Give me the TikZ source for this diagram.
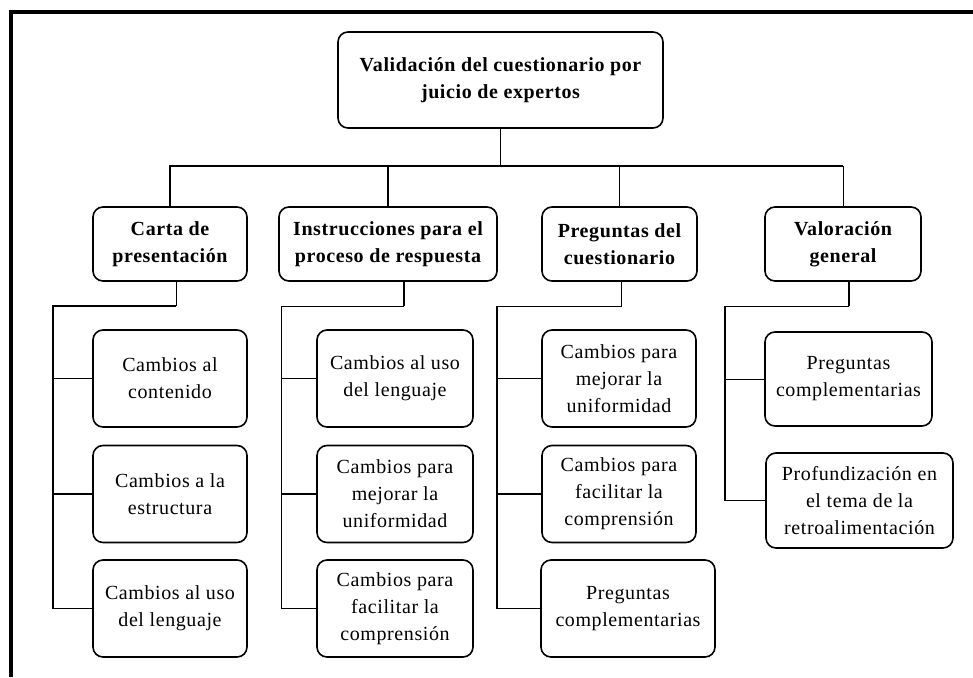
\documentclass[tikz,border=0pt]{standalone}
\usepackage{fontspec}
\setmainfont{Liberation Serif}[LetterSpace=3]
\usepackage{tikz}

\tikzset{
  caja/.style={draw,rounded corners=10pt,line width=1.6pt,align=center,inner sep=0pt,
    font=\fontsize{20}{27}\selectfont},
  bloque/.style={caja,font=\fontsize{20}{27}\selectfont\bfseries},
  grueso/.style={line width=1.7pt},
  fino/.style={line width=0.9pt}
}

\begin{document}
\begin{tikzpicture}[x=1pt,y=-1pt]
\useasboundingbox (0,0) rectangle (973,677);
%%% marco %%%
\draw[line width=3.5pt] (11,677) -- (11,12) -- (973,12);

%%% raiz y bloques %%%
  \node (V) at (500.5,80) [bloque,minimum width=325pt,minimum height=96pt] {Validación del cuestionario por\\juicio de expertos};
  \node (C) at (170,244) [bloque,minimum width=154pt,minimum height=74pt] {Carta de\\presentación};
  \node (I) at (388,244) [bloque,minimum width=218pt,minimum height=74pt] {Instrucciones para el\\proceso de respuesta};
  \node (P) at (619.5,244) [bloque,minimum width=155pt,minimum height=74pt] {Preguntas del\\cuestionario};
  \node (G) at (843,244) [bloque,minimum width=156pt,minimum height=74pt] {Valoración\\general};

%%% hojas %%%
  \node (C1) at (170,378.5) [caja,minimum width=154pt,minimum height=97pt] {Cambios al\\contenido};
  \node (C2) at (170,494) [caja,minimum width=154pt,minimum height=97pt] {Cambios a la\\estructura};
  \node (C3) at (170,608.5) [caja,minimum width=154pt,minimum height=97pt] {Cambios al uso\\del lenguaje};

  \node (I1) at (395,378.5) [caja,minimum width=156pt,minimum height=97pt] {Cambios al uso\\del lenguaje};
  \node (I2) at (395,494) [caja,minimum width=156pt,minimum height=97pt] {Cambios para\\mejorar la\\uniformidad};
  \node (I3) at (395,608.5) [caja,minimum width=156pt,minimum height=97pt] {Cambios para\\facilitar la\\comprensión};

  \node (P1) at (619,378.5) [caja,minimum width=154pt,minimum height=97pt] {Cambios para\\mejorar la\\uniformidad};
  \node (P2) at (619,494) [caja,minimum width=154pt,minimum height=97pt] {Cambios para\\facilitar la\\comprensión};
  \node (P3) at (628,608.5) [caja,minimum width=174pt,minimum height=97pt] {Preguntas\\complementarias};

  \node (G1) at (848.5,379) [caja,minimum width=167pt,minimum height=94pt] {Preguntas\\complementarias};
  \node (G2) at (859.5,500.5) [caja,minimum width=187pt,minimum height=95pt] {Profundización en\\el tema de la\\retroalimentación};

\coordinate (bus) at (0,166);
\coordinate (cT) at (53,306);
\coordinate (iT) at (281,306);
\coordinate (pT) at (497,306);
\coordinate (gT) at (725,306);

%%% primer nivel %%%
\draw[grueso] (V.south) -- (V.south |- bus);
\draw[grueso] (C.north) -- (C.north |- bus) -- (G.north |- bus);
\draw[grueso] (I.north) -- (I.north |- bus);
\draw[fino] (P.north) -- (P.north |- bus)
   (G.north) -- (G.north |- bus);

%%% carta %%%
\draw[fino] ([xshift=6pt]C.south) -- ([xshift=6pt]C.south |- cT);
\draw[grueso] ([xshift=6pt]C.south |- cT) -- (cT) -- (cT |- C3.west);
\draw[fino] (cT |- C1.west) -- (C1.west)
   (cT |- C3.west) -- (C3.west);
\draw[grueso] (cT |- C2.west) -- (C2.west);

%%% instrucciones %%%
\draw[grueso] ([xshift=16pt]I.south) -- ([xshift=16pt]I.south |- iT);
\draw[fino] ([xshift=16pt]I.south |- iT) -- (iT) -- (iT |- I3.west);
\draw[fino] (iT |- I1.west) -- (I1.west)
   (iT |- I3.west) -- (I3.west);
\draw[grueso] (iT |- I2.west) -- (I2.west);

%%% preguntas %%%
\draw[fino] ([xshift=1.5pt]P.south) -- ([xshift=1.5pt]P.south |- pT) -- (pT);
\draw[grueso] (pT) -- (pT |- P3.west);
\draw[fino] (pT |- P1.west) -- (P1.west)
   (pT |- P3.west) -- (P3.west);
\draw[grueso] (pT |- P2.west) -- (P2.west);

%%% valoracion %%%
\draw[grueso] ([xshift=6pt]G.south) -- ([xshift=6pt]G.south |- gT);
\draw[fino] ([xshift=6pt]G.south |- gT) -- (gT);
\draw[grueso] (gT) -- (gT |- G2.west) -- (G2.west);
\draw[fino] (gT |- G1.west) -- (G1.west);
\end{tikzpicture}
\end{document}
